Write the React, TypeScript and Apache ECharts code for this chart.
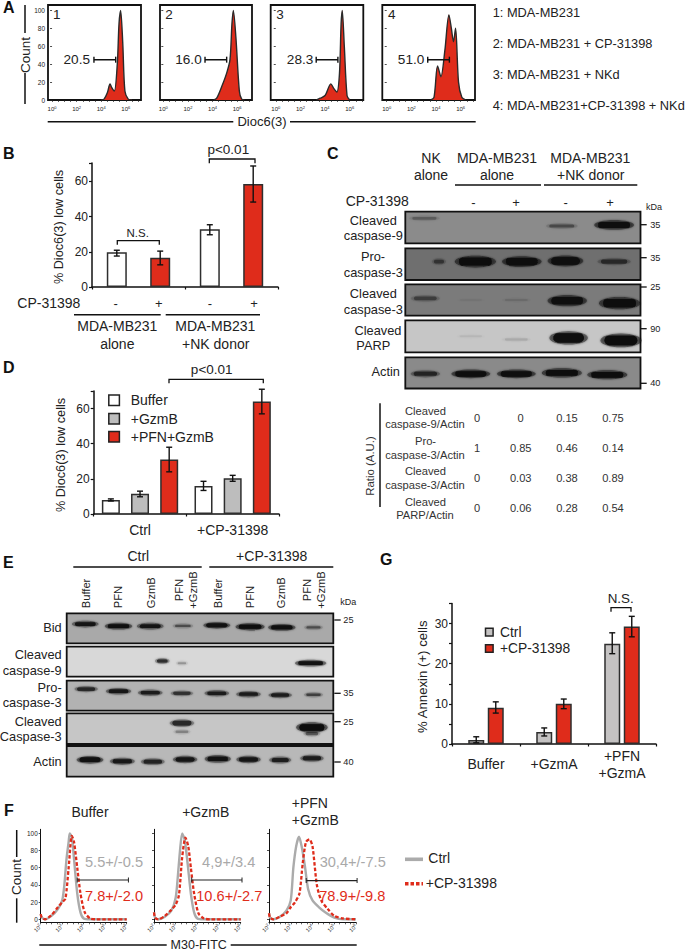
import React, { useEffect, useRef } from "react";
import * as echarts from "echarts";

const FONT = "Liberation Sans";
const INK = "#222222";
const RED = "#df2c1b";
const GREY = "#c4c2c2";

// ---- Panel A histograms
const aHist1 = [[4.0,0],[4.23,1],[4.5,8],[4.72,18],[4.85,14],[5.07,10],[5.31,40],[5.45,85],[5.58,100],[5.75,65],[5.93,10],[6.2,1],[6.5,0]];
const aHist2 = [[4.1,0],[4.34,2],[4.75,15],[5.15,30],[5.42,45],[5.58,85],[5.69,100],[5.9,70],[6.18,10],[6.37,1],[6.6,0]];
const aHist3 = [[3.3,0],[3.6,2],[4.0,5],[4.47,18],[4.7,13],[4.96,9],[5.17,30],[5.3,85],[5.39,100],[5.56,60],[5.78,5],[6.0,0]];
const aHist4 = [[3.57,0],[3.84,3],[4.13,38],[4.4,26],[4.72,55],[5.05,95],[5.25,80],[5.42,65],[5.59,80],[5.83,20],[6.1,3],[6.4,0]];
const aGates = [[3.41,5.18],[3.39,5.15],[3.28,5.04],[3.33,5.09]];
const aPercents = ["20.5","16.0","28.3","51.0"];
const aLegend = ["1: MDA-MB231","2: MDA-MB231 + CP-31398","3: MDA-MB231 + NKd","4: MDA-MB231+CP-31398 + NKd"];
const aYLabels = [0,20,40,60,80,100];
const aXLabels = [0,2,4,6];
const aXTicks = [0,0.5,1,1.5,2,2.5,3,3.5,4,4.5,5,5.5,6,6.5,7];

// ---- Panel B
const bCategories = ["MDA-MB231 alone","MDA-MB231 +NK donor"];
const bMinus = [19.7,32.8];
const bMinusLow = [17.6,29.7];
const bMinusHigh = [20.9,35.4];
const bPlus = [16.7,58.5];
const bPlusLow = [12.6,48.3];
const bPlusHigh = [20.4,68.8];
const bYTicks = [0,20,40,60];

// ---- Panel D
const dCategories = ["Ctrl","+CP-31398"];
const dBuffer = [8,16];
const dBufferLow = [7.4,13.4];
const dBufferHigh = [8.6,18.6];
const dGzmB = [11.5,20.3];
const dGzmBLow = [9.8,18.6];
const dGzmBHigh = [13,22];
const dPfn = [31,64];
const dPfnLow = [24,57];
const dPfnHigh = [38,71];

// ---- Panel G
const gCategories = ["Buffer","+GzmA","+PFN\n+GzmA"];
const gCtrl = [1,3,25];
const gCtrlLow = [0.3,2,22.5];
const gCtrlHigh = [1.8,4,27.7];
const gCp = [9,10,29.3];
const gCpLow = [7.7,8.8,26.7];
const gCpHigh = [10.5,11.2,31.8];
const gYLabels = [0,10,20,30];

// ---- Panel F
const fCtrl1 = [[2,6],[2.05,2],[2.2,0],[2.5,4],[2.8,12],[3.0,22],[3.1,40],[3.2,70],[3.3,90],[3.35,100],[3.45,95],[3.55,70],[3.7,30],[3.85,8],[4,1],[4.3,0],[6,0]];
const fCp1 = [[2,6],[2.05,2],[2.2,0],[2.5,5],[2.8,14],[3.0,20],[3.15,24],[3.3,60],[3.45,97],[3.55,90],[3.7,60],[3.85,30],[4.05,8],[4.3,1],[4.6,0],[6,0]];
const fCtrl2 = [[2,8],[2.05,2],[2.2,0],[2.5,3],[2.8,10],[3.0,25],[3.1,50],[3.2,80],[3.3,100],[3.42,92],[3.55,65],[3.7,30],[3.85,8],[4,1],[4.3,0],[6,0]];
const fCp2 = [[2,8],[2.05,2],[2.2,0],[2.5,4],[2.8,11],[3.0,17],[3.15,28],[3.3,72],[3.45,95],[3.58,85],[3.7,60],[3.85,30],[4.05,7],[4.3,1],[4.6,0],[6,0]];
const fCtrl3 = [[2,7],[2.05,2],[2.2,0],[2.5,3],[2.8,10],[3.0,22],[3.12,60],[3.25,85],[3.38,96],[3.5,85],[3.65,62],[3.8,35],[4,22],[4.3,14],[4.6,8],[5,2],[5.4,0],[6,0]];
const fCp3 = [[2,7],[2.05,2],[2.2,0],[2.5,3],[2.8,7],[3.0,14],[3.2,20],[3.4,30],[3.55,65],[3.7,90],[3.86,93],[4,85],[4.2,40],[4.4,22],[4.7,12],[5,4],[5.4,1],[6,0]];
const fGates = [[3.7,6.08],[3.74,6.06],[3.71,6.05]];
const fGateLevel = [45.7,45.7,45];
const fTitles = ["Buffer","+GzmB"];
const fCtrlText = ["5.5+/-0.5","4,9+/3.4","30,4+/-7.5"];
const fCpText = ["7.8+/-2.0","10.6+/-2.7","78.9+/-9.8"];
const fYLabels = [0,20,40,60,80,100];
const fXLabels = [2,3,4,5,6];
const fXTicks = [2,2.25,2.5,2.75,3,3.25,3.5,3.75,4,4.25,4.5,4.75,5,5.25,5.5,5.75,6];

// ---- Panel C blots: [lane, strength, height in box, width factor]
const cRow1 = [[-0.02,0.22,0.21,1],[3,0.3,0.45,1],[4.15,0.92,0.42,1]];
const cRow2 = [[0.3,0.35,0.42,0.4],[1.1,1,0.42,1],[2.12,0.9,0.42,1],[3.08,0.88,0.4,0.9],[4.15,0.42,0.42,1]];
const cRow3 = [[0,0.32,0.45,0.9],[1,0.05,0.5,1],[2,0.1,0.5,1],[3.12,0.88,0.52,1],[4.27,1,0.6,1]];
const cRow4 = [[1,0.06,0.5,1],[2,0.1,0.6,1],[3.15,0.95,0.55,0.95],[4.3,1,0.63,1]];
const cRow5 = [[0,0.6,0.53,0.85],[1,0.92,0.53,1],[2,0.92,0.53,1],[3,1,0.5,1],[4,1,0.56,1]];
const cRatioLabels = [["Cleaved","caspase-9/Actin"],["Pro-","caspase-3/Actin"],["Cleaved","caspase-3/Actin"],["Cleaved","PARP/Actin"]];
const cRatios = [["0","0","0.15","0.75"],["1","0.85","0.46","0.14"],["0","0.03","0.38","0.89"],["0","0.06","0.28","0.54"]];

// ---- Panel E blots
const eRow1 = [[-0.15,0.82,0.36,1],[0.9,0.88,0.43,1],[1.9,0.82,0.43,1],[2.93,0.35,0.42,1],[4,0.85,0.4,1],[5.05,1,0.45,1],[6.05,0.88,0.47,1],[7.05,0.35,0.47,0.9]];
const eRow2 = [[2.28,0.6,0.48,0.55],[2.9,0.2,0.55,0.6],[6.96,0.85,0.55,1.1]];
const eRow3 = [[-0.12,0.62,0.28,1],[0.9,0.78,0.35,1],[1.9,0.72,0.4,1],[2.9,0.55,0.42,1],[4,0.72,0.42,1],[5,0.72,0.45,1],[6,0.72,0.48,0.95],[7.05,0.42,0.47,0.9]];
const eRow4 = [[2.9,0.62,0.32,1],[2.9,0.22,0.6,0.9],[7,1,0.46,1.05],[7,0.35,0.66,0.8]];
const eRow5 = [[0,0.9,0.45,1],[1.02,0.75,0.5,1],[1.98,0.65,0.51,1],[3,0.8,0.44,0.95],[4.03,0.85,0.42,1],[5,0.8,0.44,0.95],[6,0.7,0.46,0.9],[7,0.72,0.4,0.95]];
const eLanes = ["Buffer","PFN","GzmB","Buffer","PFN","GzmB"];

const grid: any[] = [];
const xAxis: any[] = [];
const yAxis: any[] = [];
const series: any[] = [];
const elements: any[] = [];

function txt(text: string, x: number, y: number, size = 14, align = "center", fill = INK, rot = 0, weight = "normal") {
  elements.push({
    type: "text", x, y, rotation: rot, z: 100, silent: true,
    style: { text, fontSize: size, fontFamily: FONT, fontWeight: weight, fill, align, verticalAlign: "middle", textAlign: align, textVerticalAlign: "middle" },
  });
}
function seg(x1: number, y1: number, x2: number, y2: number, w = 1.5, stroke = "#111111") {
  elements.push({ type: "line", z: 100, silent: true, shape: { x1, y1, x2, y2 }, style: { stroke, lineWidth: w } });
}
function bracket(x1: number, x2: number, top: number, drop: number) {
  elements.push({ type: "polyline", z: 100, silent: true, shape: { points: [[x1, top + drop], [x1, top], [x2, top], [x2, top + drop]] }, style: { stroke: "#111111", lineWidth: 1.3, fill: "none" } });
}
function box(x: number, y: number, w: number, h: number, fill: string, lw = 1.3, stroke = "#222222") {
  elements.push({ type: "rect", z: 100, silent: true, shape: { x, y, width: w, height: h }, style: { fill, stroke, lineWidth: lw } });
}

function rect(left: number, right: number, top: number, bottom: number, extra: any = {}) {
  grid.push({ left, top, width: right - left, height: bottom - top, ...extra });
  return grid.length - 1;
}

// ---------- histogram panels A
const aBoxes = [[48,141],[160,252],[270.7,363.3],[382.3,475]];
const aMins = [-0.33,-0.27,-0.41,-0.36];
const aMaxs = [7.24,7.21,7.1,7.17];
[aHist1,aHist2,aHist3,aHist4].forEach((h, i) => {
  const g = rect(aBoxes[i][0], aBoxes[i][1], 5, 100, { show: true, borderColor: "#111111", borderWidth: 1.8, backgroundColor: "#ffffff" });
  xAxis.push({
    gridIndex: g, type: "value", min: aMins[i], max: aMaxs[i], position: "bottom", splitLine: { show: false },
    axisLine: { show: false }, axisTick: { show: true, length: 2, lineStyle: { color: "#222", width: 0.7 }, customValues: aXTicks },
    axisLabel: { show: true, margin: 5, customValues: aXLabels, formatter: (v: number) => `{b|10}{s|${v}}`,
      rich: { b: { fontSize: 6, fontFamily: FONT, color: INK }, s: { fontSize: 4, fontFamily: FONT, color: INK, verticalAlign: "top", padding: [0,0,3,0] } } },
  });
  yAxis.push({
    gridIndex: g, type: "value", min: 0, max: 106, splitLine: { show: false }, axisLine: { show: false },
    axisTick: { show: true, length: 2, lineStyle: { color: "#222", width: 0.8 }, customValues: aYLabels },
    axisLabel: { show: i === 0, margin: 3, fontSize: 6.5, fontFamily: FONT, color: INK, customValues: aYLabels },
  });
  series.push({ type: "line", xAxisIndex: g, yAxisIndex: g, data: h, smooth: 0.3, symbol: "none", lineStyle: { color: "#2a2a2a", width: 1.4 }, areaStyle: { color: RED, opacity: 1 }, z: 2 });
  series.push({ type: "line", xAxisIndex: g, yAxisIndex: g, data: aGates[i].map((x) => [x, 45]), symbol: "rect", symbolSize: [1.4, 6], showSymbol: true, itemStyle: { color: "#111" }, lineStyle: { color: "#111", width: 1.5 }, z: 5 });
});
[[56.7,"1"],[169,"2"],[280,"3"],[391.7,"4"]].forEach(([x, t]: any) => txt(t, x, 14, 13.5));
[90,201.7,313.3,424.3].forEach((x, i) => txt(aPercents[i], x, 59.3, 13.6, "right"));
[12.3,43.3,74.3,105.3].forEach((y, i) => txt(aLegend[i], 492.7, y, 12.8, "left"));
txt("A", 3, 7, 16, "left", "#111", 0, "bold");
txt("Count", 25, 55, 13.5, "center", INK, Math.PI / 2);
seg(25, 5, 25, 33); seg(25, 73, 25, 104);
txt("Dioc6(3)", 262, 121.7, 13);
seg(47.7, 121.7, 233.3, 121.7); seg(290, 121.7, 475.7, 121.7);

// ---------- bar panels
function errorSeries(g: number, low: number[], high: number[], offset: number) {
  series.push({
    type: "custom", xAxisIndex: g, yAxisIndex: g, z: 6,
    data: low.map((l, i) => [i, l, high[i]]),
    encode: { x: 0, y: [1, 2] },
    renderItem: (_: any, api: any) => {
      const a = api.coord([api.value(0), api.value(1)]);
      const b = api.coord([api.value(0), api.value(2)]);
      const x = a[0] + offset;
      const st = { stroke: "#111111", lineWidth: 1.4, fill: "none" };
      return { type: "group", children: [
        { type: "line", shape: { x1: x, y1: a[1], x2: x, y2: b[1] }, style: st },
        { type: "line", shape: { x1: x - 3, y1: a[1], x2: x + 3, y2: a[1] }, style: st },
        { type: "line", shape: { x1: x - 3, y1: b[1], x2: x + 3, y2: b[1] }, style: st },
      ] };
    },
  });
}
function barPanel(l: number, r: number, t: number, b: number, cats: string[], maxV: number, interval: number, labelVals: number[], bars: any[], barW: number, gap: number, showCats: boolean, catMargin: number) {
  const g = rect(l, r, t, b);
  xAxis.push({
    gridIndex: g, type: "category", data: cats, splitLine: { show: false },
    axisLine: { show: true, lineStyle: { color: "#111", width: 1.5 } }, axisTick: { show: true, length: 2.5, inside: false, lineStyle: { color: "#111", width: 1.2 } },
    axisLabel: { show: showCats, margin: catMargin, fontSize: 14, fontFamily: FONT, color: INK, lineHeight: 17, verticalAlign: "middle", interval: 0 },
  });
  yAxis.push({
    gridIndex: g, type: "value", min: 0, max: maxV, interval, splitLine: { show: false },
    axisLine: { show: true, lineStyle: { color: "#111", width: 1.5 } }, axisTick: { show: true, length: 3, lineStyle: { color: "#111", width: 1.2 } },
    axisLabel: { show: true, margin: 4, fontSize: 12, fontFamily: FONT, color: INK, customValues: labelVals },
  });
  const n = bars.length;
  bars.forEach((s, i) => {
    series.push({ type: "bar", name: s.name, xAxisIndex: g, yAxisIndex: g, data: s.values, barWidth: barW, barGap: `${gap}%`, itemStyle: { color: s.color, borderColor: "#2e2e2e", borderWidth: 1.5 }, z: 3 });
    errorSeries(g, s.low, s.high, (i - (n - 1) / 2) * barW * (1 + gap / 100));
  });
}
barPanel(92, 278, 163, 287, bCategories, 70.5, 20, bYTicks, [
  { name: "-", color: "#ffffff", values: bMinus, low: bMinusLow, high: bMinusHigh },
  { name: "+", color: RED, values: bPlus, low: bPlusLow, high: bPlusHigh },
], 20, 117, false, 20);
barPanel(93.7, 279, 391, 514, dCategories, 70, 20, bYTicks, [
  { name: "Buffer", color: "#ffffff", values: dBuffer, low: dBufferLow, high: dBufferHigh },
  { name: "+GzmB", color: "#bdbdbd", values: dGzmB, low: dGzmBLow, high: dGzmBHigh },
  { name: "+PFN+GzmB", color: RED, values: dPfn, low: dPfnLow, high: dPfnHigh },
], 18, 62, true, 16);
barPanel(452, 656, 603.5, 744, gCategories, 35, 5, gYLabels, [
  { name: "Ctrl", color: GREY, values: gCtrl, low: gCtrlLow, high: gCtrlHigh },
  { name: "+CP-31398", color: RED, values: gCp, low: gCpLow, high: gCpHigh },
], 16, 22, true, 20);

// B text
txt("B", 3, 153, 16, "left", "#111", 0, "bold");
txt("% Dioc6(3) low cells", 59.3, 227, 12.7, "center", INK, Math.PI / 2);
txt("CP-31398", 17.3, 303, 14, "left");
[[115.7,"-"],[158.7,"+"],[210,"-"],[254,"+"]].forEach(([x, t]: any) => txt(t, x, 303, 13));
seg(74, 314.7, 160.7, 314.7); seg(165.7, 314.7, 260, 314.7);
txt("MDA-MB231", 117.3, 326, 14); txt("alone", 117.3, 344, 14);
txt("MDA-MB231", 215.3, 326, 14); txt("+NK donor", 215.7, 344, 14);
txt("N.S.", 137.7, 232.7, 11.5); bracket(117.3, 159.3, 240.7, 4);
txt("p<0.01", 228.3, 149.3, 13.5); bracket(209.3, 255, 159, 4.2);

// D text
txt("D", 3, 367, 16, "left", "#111", 0, "bold");
txt("% Dioc6(3) low cells", 60.7, 455, 12.7, "center", INK, Math.PI / 2);
txt("p<0.01", 211.7, 369.3, 13.5); bracket(169, 263.3, 379.3, 4);
[[400.3,"#ffffff","Buffer"],[418.7,"#bdbdbd","+GzmB"],[436.7,RED,"+PFN+GzmB"]].forEach(([y, c, t]: any) => {
  box(108.8, y - 5.3, 10.6, 10.6, c, 1.5);
  txt(t, 130.7, y, 14, "left");
});

// G text
txt("G", 380, 559, 16, "left", "#111", 0, "bold");
txt("% Annexin (+) cells", 422, 676.7, 13.2, "center", INK, Math.PI / 2);
box(485.5, 628.3, 7.6, 7.6, GREY, 1.5); txt("Ctrl", 500, 632.3, 13.8, "left");
box(485.5, 644.7, 7.6, 7.6, RED, 1.5); txt("+CP-31398", 500, 648.7, 13.8, "left");
txt("N.S.", 620.7, 598.7, 13.4); bracket(611, 631, 607.7, 4);

// ---------- blots
function blotRow(l: number, r: number, t: number, b: number, bg: string, rows: number[][], laneMin: number, laneMax: number, wBase: number, wGain: number, hGain: number) {
  const g = rect(l, r, t, b, { show: true, backgroundColor: bg, borderColor: "#111111", borderWidth: 1.8 });
  xAxis.push({ gridIndex: g, type: "value", min: laneMin, max: laneMax, show: false, splitLine: { show: false } });
  yAxis.push({ gridIndex: g, type: "value", min: 0, max: 1, inverse: true, show: false, splitLine: { show: false } });
  series.push({
    type: "custom", xAxisIndex: g, yAxisIndex: g, z: 2, clip: true,
    data: rows,
    renderItem: (_: any, api: any) => {
      const p = api.coord([api.value(0), api.value(2)]);
      const s = api.value(1);
      const w = (wBase + wGain * s) * api.value(3);
      const h = 1.8 + hGain * s;
      const ink = "#101010";
      const op = Math.pow(s, 1.25);
      return {
        type: "group",
        children: [
          { type: "ellipse", shape: { cx: p[0], cy: p[1], rx: w / 2 + 1, ry: h / 2 + 1.2 }, style: { fill: ink, opacity: op * 0.45, shadowBlur: 2.5, shadowColor: ink } },
          { type: "rect", shape: { x: p[0] - w * 0.42, y: p[1] - h * 0.42, width: w * 0.84, height: h * 0.84, r: h * 0.42 }, style: { fill: ink, opacity: op * 0.9, shadowBlur: 1.5, shadowColor: ink } },
        ],
      };
    },
  });
}
const cL = 405.3, cR = 640.5;
const cMin = -0.44, cMax = 4.73;
blotRow(cL, cR, 211.7, 243.3, "#8b8b8b", cRow1, cMin, cMax, 26, 13, 6);
blotRow(cL, cR, 248.3, 280, "#6f6f6f", cRow2, cMin, cMax, 26, 13, 7.5);
blotRow(cL, cR, 284.3, 315.7, "#7b7b7b", cRow3, cMin, cMax, 26, 13, 8);
blotRow(cL, cR, 320.3, 352.3, "#c6c6c6", cRow4, cMin, cMax, 26, 13, 9.5);
blotRow(cL, cR, 357.3, 388.5, "#8a8a8a", cRow5, cMin, cMax, 24, 14, 5);

const eL = 66.7, eR = 333.3;
const eMin = -0.735, eMax = 7.675;
blotRow(eL, eR, 613.3, 643.3, "#a9a9a9", eRow1, eMin, eMax, 14, 13, 3);
blotRow(eL, eR, 646.7, 676.7, "#d8d8d8", eRow2, eMin, eMax, 14, 15, 3);
blotRow(eL, eR, 680.7, 710.7, "#b2b2b2", eRow3, eMin, eMax, 14, 12, 3);
blotRow(eL, eR, 713.3, 744, "#c6c6c6", eRow4, eMin, eMax, 14, 14, 6);
blotRow(eL, eR, 746, 776.7, "#b8b8b8", eRow5, eMin, eMax, 14, 12, 4);

// C text
txt("C", 327, 153, 16, "left", "#111", 0, "bold");
txt("NK", 431, 157.7); txt("alone", 431, 175);
txt("MDA-MB231", 497, 157.7); txt("alone", 497, 175);
txt("MDA-MB231", 590.3, 157.7); txt("+NK donor", 590.7, 175);
seg(455, 185, 541, 185); seg(544, 185, 637.3, 185);
txt("CP-31398", 345.7, 201, 14, "left");
[[473.3,"-"],[516,"+"],[565.7,"-"],[610,"+"]].forEach(([x, t]: any) => txt(t, x, 202, 13));
txt("kDa", 654, 206.7, 9);
[["Cleaved",373.3,220],["caspase-9",373.3,235.7],["Pro-",373,256.7],["caspase-3",373.3,272.7],["Cleaved",373.3,293.3],["caspase-3",373.3,309],["Cleaved",378,330],["PARP",373.3,345.7],["Actin",385.7,371.7]].forEach(([t, x, y]: any) => txt(t, x, y, 12.8));
[["35",224.7],["35",257.7],["25",287],["90",328.7],["40",383.3]].forEach(([t, y]: any) => { seg(640.7, y, 646.7, y, 1.3); txt(t, 655.3, y, 9.2); });
txt("Ratio (A.U.)", 370, 466, 11.4, "center", "#333333", Math.PI / 2);
seg(380, 403.3, 380, 507, 1.5);
[[411,424.3],[441.3,454.7],[471.3,485],[502.3,515.3]].forEach((ys, i) => {
  txt(cRatioLabels[i][0], 425.5, ys[0], 11.2, "center", "#333333");
  txt(cRatioLabels[i][1], 425, ys[1], 11.2, "center", "#333333");
});
[417.7,447.7,478,508.3].forEach((y, i) => cRatios[i].forEach((v, j) => txt(v, [477,520.7,567,613][j], y, 11.1, "center", "#333333")));

// E text
txt("E", 3, 562, 16, "left", "#111", 0, "bold");
txt("Ctrl", 138.3, 555.7); txt("+CP-31398", 271.7, 555.7);
seg(73.3, 567, 201.7, 567); seg(209.3, 567, 333.3, 567);
[86,118.3,150.7,218.3,250,281].forEach((x, i) => txt(eLanes[i], x, 608.3, 11.2, "left", INK, Math.PI / 2));
[[178.7,192.7],[307.3,321.3]].forEach(([a, b]) => { txt("PFN", a, 590, 11.2, "center", INK, Math.PI / 2); txt("+GzmB", b, 590, 11.2, "center", INK, Math.PI / 2); });
txt("kDa", 348.3, 601.7, 9);
[["Bid",627.3],["Cleaved",654],["caspase-9",670],["Pro-",687.3],["caspase-3",702.3],["Cleaved",721],["Caspase-3",736.7],["Actin",761.3]].forEach(([t, y]: any) => txt(t, 61.7, y, 12.8, "right"));
[["25",620],["35",693.3],["25",721.7],["40",762]].forEach(([t, y]: any) => { seg(334.3, y, 340.7, y, 1.3); txt(t, 343.3, y, 9.2, "left"); });

// ---------- F histograms
const fLefts = [[40.7,126.7],[154,240.7],[269,356]];
[[fCtrl1,fCp1],[fCtrl2,fCp2],[fCtrl3,fCp3]].forEach(([c, p], i) => {
  const g = rect(fLefts[i][0], fLefts[i][1], 829.3, 922.3);
  xAxis.push({
    gridIndex: g, type: "value", min: 2, max: 6, position: "bottom", splitLine: { show: false },
    axisLine: { show: true, onZero: false, lineStyle: { color: "#111", width: 1 } },
    axisTick: { show: true, length: 2, lineStyle: { color: "#222", width: 0.7 }, customValues: fXTicks },
    axisLabel: { show: true, margin: 3, rotate: 45, customValues: fXLabels, formatter: (v: number) => `{b|10}{s|${v}}`,
      rich: { b: { fontSize: 5.5, fontFamily: FONT, color: INK }, s: { fontSize: 3.8, fontFamily: FONT, color: INK, verticalAlign: "top", padding: [0,0,3,0] } } },
  });
  yAxis.push({
    gridIndex: g, type: "value", min: -3.5, max: 104.7, splitLine: { show: false },
    axisLine: { show: true, onZero: false, lineStyle: { color: "#111", width: 1 } },
    axisTick: { show: true, length: 2, lineStyle: { color: "#222", width: 0.8 }, customValues: fYLabels },
    axisLabel: { show: i === 0, margin: 3, fontSize: 6.4, fontFamily: FONT, color: INK, customValues: fYLabels },
  });
  series.push({ type: "line", name: "Ctrl", xAxisIndex: g, yAxisIndex: g, data: c, smooth: 0.25, symbol: "none", lineStyle: { color: "#ababab", width: 2.4 }, z: 2 });
  series.push({ type: "line", name: "+CP-31398", xAxisIndex: g, yAxisIndex: g, data: p, smooth: 0.25, symbol: "none", lineStyle: { color: RED, width: 2.3, type: [3.5, 2] }, z: 3 });
  series.push({ type: "line", xAxisIndex: g, yAxisIndex: g, clip: false, data: fGates[i].map((x) => [x, fGateLevel[i]]), symbol: "rect", symbolSize: [1, 5], itemStyle: { color: "#222" }, lineStyle: { color: "#222", width: 1.1 }, z: 5 });
});
txt("F", 4, 810, 16, "left", "#111", 0, "bold");
txt(fTitles[0], 90, 811.7, 14); txt(fTitles[1], 205.7, 811.7, 14);
txt("+PFN", 291.7, 802.7, 14, "left"); txt("+GzmB", 291.7, 820, 14, "left");
[114,228.7,352.7].forEach((x, i) => txt(fCtrlText[i], x, 862.3, 14.6, "center", "#a9a9a9"));
[114,229.3,352.3].forEach((x, i) => txt(fCpText[i], x, 895.7, 14.6, "center", RED));
txt("Count", 16.7, 877, 13.5, "center", INK, Math.PI / 2);
seg(16.7, 830, 16.7, 857); seg(16.7, 898.3, 16.7, 922.7);
txt("M30-FITC", 198.7, 944.5, 12.5);
seg(39.3, 945, 166.7, 945); seg(230.7, 945, 356.7, 945);
seg(405, 859.3, 423, 859.3, 3.6, "#ababab");
elements.push({ type: "line", z: 100, shape: { x1: 405, y1: 883.7, x2: 423, y2: 883.7 }, style: { stroke: RED, lineWidth: 3.4, lineDash: [3.5, 2] } });
txt("Ctrl", 428.3, 858, 14, "left");
txt("+CP-31398", 425.7, 883, 14, "left");

const option: any = { animation: false, backgroundColor: "#ffffff", tooltip: { show: false }, grid, xAxis, yAxis, series, graphic: { elements } };

export default function App() {
  const ref = useRef<HTMLDivElement>(null);
  useEffect(() => {
    document.body.style.margin = "0";
    const chart = echarts.init(ref.current as HTMLDivElement, undefined, { renderer: "svg" });
    chart.setOption(option);
    return () => chart.dispose();
  }, []);
  return <div ref={ref} style={{ width: 685, height: 952, position: "absolute", left: 0, top: 0 }} />;
}
